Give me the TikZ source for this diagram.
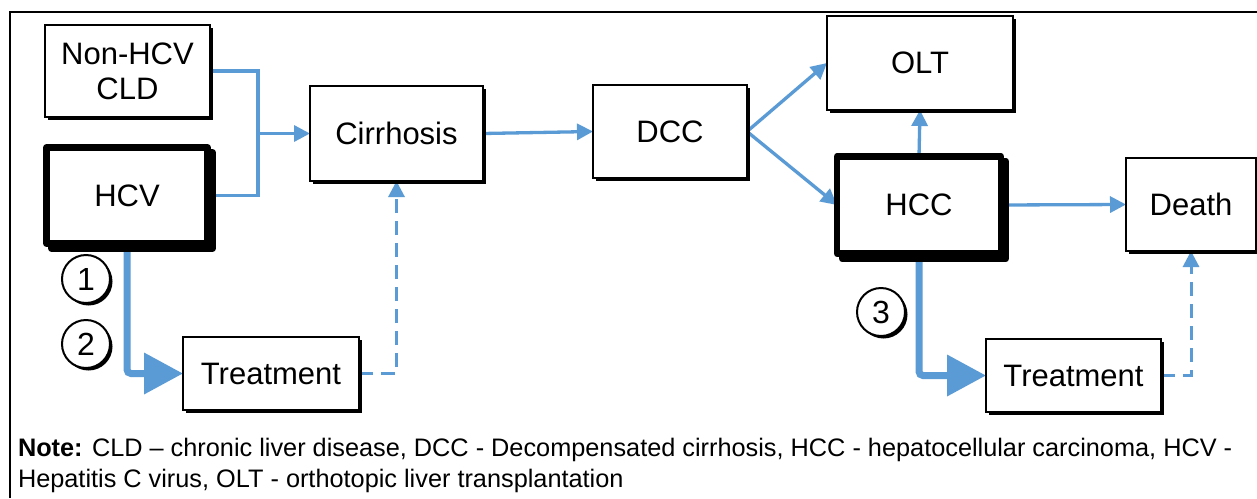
\documentclass[tikz,border=0pt]{standalone}
\usepackage{fontspec}
\setmainfont{Liberation Sans}
\usetikzlibrary{arrows.meta,shadows,backgrounds}
\definecolor{flow}{RGB}{91,155,213}
\begin{document}
\begin{tikzpicture}[x=1pt,y=-1pt,
  every node/.style={inner sep=0pt, outer sep=0pt},
  box/.style={draw=black, fill=white, line width=2pt, align=center,
    font=\fontsize{31}{35}\selectfont,
    general shadow={fill=black, shadow xshift=3pt, shadow yshift=-3pt}},
  keybox/.style={box, line width=6.6pt, line join=round,
    general shadow={draw=black, fill=black, line width=6.6pt, line join=round,
      shadow xshift=5pt, shadow yshift=-5pt}},
  marker/.style={circle, draw=black, fill=white, line width=2pt, minimum size=48pt,
    font=\fontsize{32}{36}\selectfont,
    general shadow={fill=black, shadow xshift=2.5pt, shadow yshift=-2.5pt}},
  flowline/.style={draw=flow, line width=3.3pt},
  flowarrow/.style={flowline, -{Triangle[length=16pt,width=16pt]}},
  bigarrow/.style={draw=flow, line width=7pt, rounded corners=4pt,
    -{Triangle[length=39pt,width=40pt]}},
  dasharrow/.style={draw=flow, line width=3pt, dash pattern=on 14pt off 8pt,
    -{Triangle[length=16pt,width=16pt]}},
  notetext/.style={anchor=base west, font=\fontsize{25.3}{29}\selectfont}
]
% canvas
\useasboundingbox (0,0) rectangle (1257,498);

% states
\node[box, minimum width=165pt, minimum height=92pt] (nonhcv) at (127.5,71) {Non-HCV\\CLD};
\node[keybox, minimum width=161pt, minimum height=96pt] (hcv) at (127,195.5) {HCV};
\node[box, minimum width=173pt, minimum height=95pt] (cirr) at (396.5,133.5) {Cirrhosis};
\node[box, minimum width=154pt, minimum height=93pt] (dcc) at (670,131.5) {DCC};
\node[box, minimum width=186pt, minimum height=94pt] (olt) at (920,63) {OLT};
\node[keybox, minimum width=164pt, minimum height=97pt] (hcc) at (919,205) {HCC};
\node[box, minimum width=130pt, minimum height=93pt] (death) at (1191,204.5) {Death};
\node[box, minimum width=176pt, minimum height=73pt] (treat1) at (271,373.5) {Treatment};
\node[box, minimum width=175pt, minimum height=73pt] (treat2) at (1073.5,375.5) {Treatment};

% numbered markers
\node[marker] (m1) at (86,279) {1};
\node[marker] (m2) at (86,344) {2};
\node[marker] (m3) at (881,312) {3};

\coordinate (join) at (258,133.5);

% white page, frame and transitions behind the boxes
\begin{scope}[on background layer]
  \fill[white] (0,0) rectangle (1257,498);
  \draw[line width=2pt] (10,498) -- (10,12) -- (1257,12);
  \draw[flowline] (nonhcv.east) -| (join) |- (hcv.east);
  \draw[flowarrow] (join) -- (cirr.west);
  \draw[flowarrow] (cirr.east) -- (dcc.west);
  \draw[flowarrow] (dcc.east) -- (olt.west);
  \draw[flowarrow] (dcc.east) -- (hcc.west);
  \draw[flowarrow] (hcc.north) -- (olt.south);
  \draw[flowarrow] (hcc.east) -- (death.west);
  \draw[bigarrow] (hcv.south) |- (treat1.west);
  \draw[bigarrow] (hcc.south) |- (treat2.west);
  \draw[dasharrow] (treat1.east) -| (cirr.south);
  \draw[dasharrow] (treat2.east) -| (death.south);
\end{scope}

% abbreviations
\node[notetext] (note1) at (18,456) {\textbf{Note:} CLD – chronic liver disease, DCC - Decompensated cirrhosis, HCC - hepatocellular carcinoma, HCV -};
\node[notetext] (note2) at (18,487) {Hepatitis C virus, OLT - orthotopic liver transplantation};
\end{tikzpicture}
\end{document}
